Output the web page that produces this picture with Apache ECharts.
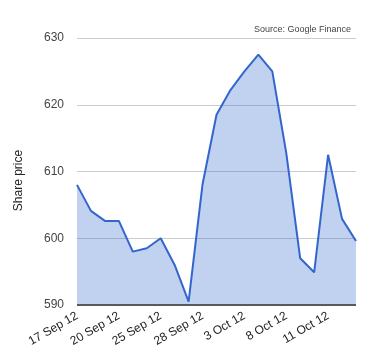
<!DOCTYPE html>
<html><head><meta charset="utf-8">
<script src="https://cdn.jsdelivr.net/npm/echarts@6/dist/echarts.min.js"></script>
<style>html,body{margin:0;padding:0;background:#fff}#c{width:380px;height:360px}</style>
</head><body><div id="c"></div>
<script>
const dates = ['17 Sep 12','18 Sep 12','19 Sep 12','20 Sep 12','21 Sep 12','24 Sep 12','25 Sep 12','26 Sep 12','27 Sep 12','28 Sep 12','1 Oct 12','2 Oct 12','3 Oct 12','4 Oct 12','5 Oct 12','8 Oct 12','9 Oct 12','10 Oct 12','11 Oct 12','12 Oct 12','15 Oct 12'];
const prices = [608.0,604.1,602.6,602.6,598.0,598.5,600.0,596.0,590.5,608.1,618.5,622.2,625.0,627.5,625.0,612.8,597.0,594.9,612.5,602.9,599.6];
const yTicks = {min:590, max:630, interval:10};
const chart = echarts.init(document.getElementById('c'));
chart.setOption({
  animation:false,
  textStyle:{fontFamily:'Liberation Sans, Arial, sans-serif'},
  title:{text:'Source: Google Finance', right:24, top:20, textStyle:{fontSize:9, fontWeight:'normal', color:'#444', fontFamily:'Liberation Sans, Arial, sans-serif'}},
  grid:{left:77, right:24, top:38, bottom:55},
  xAxis:{type:'category', data:dates, boundaryGap:false,
    axisLine:{show:false}, axisTick:{show:false},
    axisLabel:{interval:2, rotate:30, fontSize:12, color:'#222', margin:10}},
  yAxis:{type:'value', min:yTicks.min, max:yTicks.max, interval:yTicks.interval,
    name:'Share price', nameLocation:'middle', nameRotate:90, nameGap:52,
    nameTextStyle:{fontSize:12, color:'#222', padding:[0,18,0,0]},
    axisLine:{show:false}, axisTick:{show:false},
    axisLabel:{fontSize:12, color:'#444', margin:13},
    splitLine:{lineStyle:{color:'#ccc', width:1}}},
  series:[{type:'line', data:prices, showSymbol:false, symbol:'none',
    lineStyle:{color:'#3366cc', width:2}, itemStyle:{color:'#3366cc'},
    areaStyle:{color:'#3366cc', opacity:0.3, origin:'start'},
    markLine:{silent:true, symbol:'none', label:{show:false}, lineStyle:{color:'#333', type:'solid', width:1.5}, data:[{yAxis:590}]}}]
});
</script></body></html>
